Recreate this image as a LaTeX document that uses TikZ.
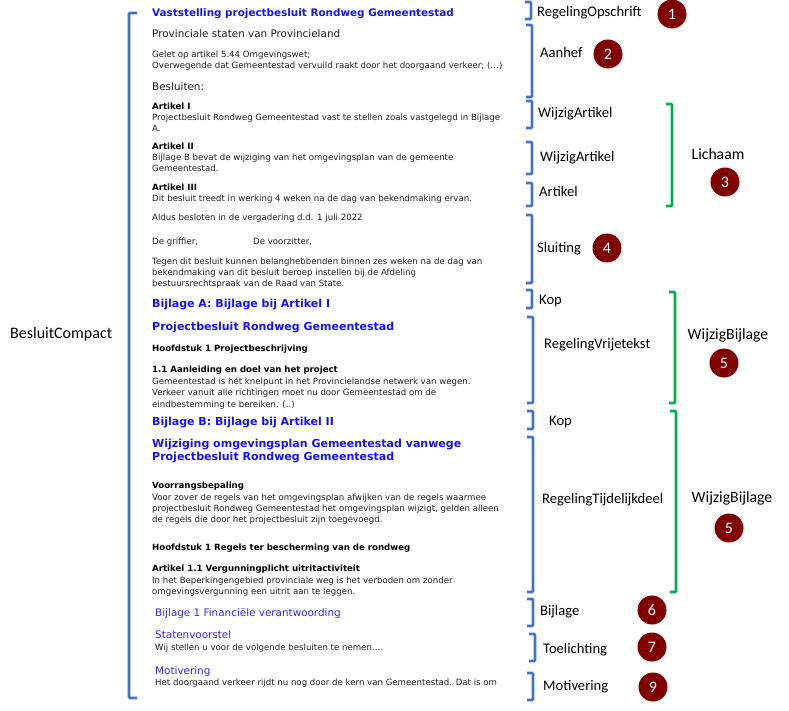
\documentclass[tikz,border=0pt]{standalone}
\usepackage{fontspec}
\setmainfont{DejaVu Sans}
\newfontfamily\lblfont{Carlito}
\definecolor{bracketblue}{RGB}{68,114,196}
\definecolor{bracketgreen}{RGB}{0,176,80}
\definecolor{badgered}{RGB}{128,0,0}
\definecolor{headblue}{RGB}{20,20,240}
\definecolor{lightblue}{RGB}{45,45,235}
\definecolor{bodygray}{RGB}{30,30,30}
\tikzset{
  txt/.style={anchor=base west, inner sep=0pt, text=bodygray, font=\fontsize{8.6}{11}\selectfont},
  txtb/.style={txt, font=\fontsize{8.6}{11}\selectfont\bfseries, text=black},
  txtl/.style={txt, font=\fontsize{10.4}{12}\selectfont},
  title/.style={anchor=base west, inner sep=0pt, text=headblue, font=\fontsize{10.4}{12}\selectfont\bfseries},
  head/.style={anchor=base west, inner sep=0pt, text=headblue, font=\fontsize{11}{13}\selectfont\bfseries},
  headl/.style={anchor=base west, inner sep=0pt, text=lightblue, font=\fontsize{10.4}{12}\selectfont},
  lbl/.style={anchor=base west, inner sep=0pt, text=black, font=\lblfont\fontsize{14.6}{16}\selectfont},
  biglbl/.style={inner sep=0pt, text=black, font=\lblfont\fontsize{15.7}{18}\selectfont},
  badge/.style={circle, fill=badgered, minimum size=29pt, inner sep=0pt, text=white, font=\lblfont\fontsize{16}{18}\selectfont},
  bbr/.style={draw=bracketblue, line width=2.6pt, rounded corners=1pt},
  gbr/.style={draw=bracketgreen, line width=2.6pt, rounded corners=1pt},
}
\newcommand\rbrk[4]{\draw[#4] (#1-6,#2) -- (#1,#2) -- (#1,#3) -- (#1-6,#3);}
\begin{document}
\begin{tikzpicture}[x=1pt,y=-1pt]
\useasboundingbox (0,0) rectangle (789,711);
% big left bracket
\draw[bbr] (137,13) -- (129,13) -- (129,698) -- (137,698);
\node[anchor=base west, inner sep=0pt, font=\lblfont\fontsize{16}{18}\selectfont] (bc) at (10,338) {BesluitCompact};
% document text
\node[title] (t1) at (152,17) {Vaststelling projectbesluit Rondweg Gemeentestad};
\node[txtl] (t2) at (152,38) {Provinciale staten van Provincieland};
\node[txt] (t3) at (152,58) {Gelet op artikel 5.44 Omgevingswet;};
\node[txt] (t4) at (152,69) {Overwegende dat Gemeentestad vervuild raakt door het doorgaand verkeer; (…)};
\node[txtl] (t5) at (152,91) {Besluiten:};
\node[txtb] (t6) at (152,110) {Artikel I};
\node[txt] (t7) at (152,121) {Projectbesluit Rondweg Gemeentestad vast te stellen zoals vastgelegd in Bijlage};
\node[txt] (t8) at (152,132) {A.};
\node[txtb] (t9) at (152,150) {Artikel II};
\node[txt] (t10) at (152,161) {Bijlage B bevat de wijziging van het omgevingsplan van de gemeente};
\node[txt] (t11) at (152,172) {Gemeentestad.};
\node[txtb] (t12) at (152,191) {Artikel III};
\node[txt] (t13) at (152,202) {Dit besluit treedt in werking 4 weken na de dag van bekendmaking ervan.};
\node[txt] (t14) at (152,221) {Aldus besloten in de vergadering d.d. 1 juli 2022};
\node[txt] (t15) at (152,244) {De griffier,};
\node[txt] (t16) at (253,244) {De voorzitter,};
\node[txt] (t17) at (152,264) {Tegen dit besluit kunnen belanghebbenden binnen zes weken na de dag van};
\node[txt] (t18) at (152,275) {bekendmaking van dit besluit beroep instellen bij de Afdeling};
\node[txt] (t19) at (152,286) {bestuursrechtspraak van de Raad van State.};
\node[head] (t20) at (152,307) {Bijlage A: Bijlage bij Artikel I};
\node[head] (t21) at (152,330) {Projectbesluit Rondweg Gemeentestad};
\node[txtb] (t22) at (152,351) {Hoofdstuk 1 Projectbeschrijving};
\node[txtb] (t23) at (152,372) {1.1 Aanleiding en doel van het project};
\node[txt] (t24) at (152,384) {Gemeentestad is hét knelpunt in het Provincielandse netwerk van wegen.};
\node[txt] (t25) at (152,395.5) {Verkeer vanuit alle richtingen moet nu door Gemeentestad om de};
\node[txt] (t26) at (152,407) {eindbestemming te bereiken. (..)};
\node[head] (t27) at (152,425) {Bijlage B: Bijlage bij Artikel II};
\node[head] (t28) at (152,447) {Wijziging omgevingsplan Gemeentestad vanwege};
\node[head] (t29) at (152,460) {Projectbesluit Rondweg Gemeentestad};
\node[txtb] (t30) at (152,488) {Voorrangsbepaling};
\node[txt] (t31) at (152,500) {Voor zover de regels van het omgevingsplan afwijken van de regels waarmee};
\node[txt] (t32) at (152,511) {projectbesluit Rondweg Gemeentestad het omgevingsplan wijzigt, gelden alleen};
\node[txt] (t33) at (152,522) {de regels die door het projectbesluit zijn toegevoegd.};
\node[txtb] (t34) at (152,550) {Hoofdstuk 1 Regels ter bescherming van de rondweg};
\node[txtb] (t35) at (152,571) {Artikel 1.1 Vergunningplicht uitritactiviteit};
\node[txt] (t36) at (152,583) {In het Beperkingengebied provinciale weg is het verboden om zonder};
\node[txt] (t37) at (152,594) {omgevingsvergunning een uitrit aan te leggen.};
\node[headl] (t38) at (155,616) {Bijlage 1 Financiële verantwoording};
\node[headl] (t39) at (155,638) {Statenvoorstel};
\node[txt] (t40) at (155,650) {Wij stellen u voor de volgende besluiten te nemen….};
\node[headl] (t41) at (155,674) {Motivering};
\node[txt] (t42) at (155,685) {Het doorgaand verkeer rijdt nu nog door de kern van Gemeentestad. Dat is om};
% blue brackets
\rbrk{531}{2}{19}{bbr}
\rbrk{532}{25}{97}{bbr}
\rbrk{532}{101}{128}{bbr}
\rbrk{532}{142}{174}{bbr}
\rbrk{532}{183}{206}{bbr}
\rbrk{532}{215}{283}{bbr}
\rbrk{532}{290}{308}{bbr}
\rbrk{533}{317}{403}{bbr}
\rbrk{533}{411}{429}{bbr}
\rbrk{533}{437}{592}{bbr}
\rbrk{533}{599}{626}{bbr}
\rbrk{535}{634}{661}{bbr}
\rbrk{533}{673}{700}{bbr}
% green brackets
\rbrk{672}{104}{206}{gbr}
\rbrk{675}{292}{403}{gbr}
\rbrk{676}{411}{592}{gbr}
% labels
\node[lbl] (l1) at (537,17) {RegelingOpschrift};
\node[lbl] (l2) at (540,58) {Aanhef};
\node[lbl] (l3) at (538,118) {WijzigArtikel};
\node[lbl] (l4) at (540,162) {WijzigArtikel};
\node[lbl] (l5) at (539,197) {Artikel};
\node[lbl] (l6) at (537,252) {Sluiting};
\node[lbl] (l7) at (539,304) {Kop};
\node[lbl] (l8) at (544,348) {RegelingVrijetekst};
\node[lbl] (l9) at (549,425) {Kop};
\node[lbl] (l10) at (542,503) {RegelingTijdelijkdeel};
\node[lbl] (l11) at (540,615) {Bijlage};
\node[lbl] (l12) at (543,653) {Toelichting};
\node[lbl] (l13) at (543,690) {Motivering};
\node[biglbl] (g1) at (718,154) {Lichaam};
\node[biglbl] (g2) at (728,335) {WijzigBijlage};
\node[biglbl] (g3) at (732,498) {WijzigBijlage};
% badges
\node[badge] (b1) at (672,14) {1};
\node[badge] (b2) at (608,54) {2};
\node[badge] (b3) at (725,182) {3};
\node[badge] (b4) at (607,248) {4};
\node[badge] (b5) at (724,363) {5};
\node[badge] (b5b) at (729,528) {5};
\node[badge] (b6) at (652,610) {6};
\node[badge] (b7) at (652,647) {7};
\node[badge] (b9) at (653,687) {9};
\end{tikzpicture}
\end{document}
